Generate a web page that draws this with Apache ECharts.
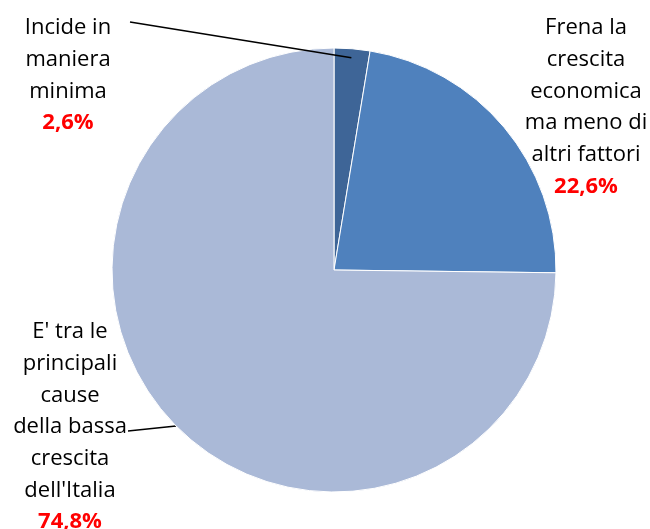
<!DOCTYPE html>
<html>
<head>
<meta charset="utf-8">
<script src="https://cdn.jsdelivr.net/npm/echarts@6/dist/echarts.min.js"></script>
<style>
  html, body { margin: 0; padding: 0; background: #fff; }
  #chart { width: 650px; height: 529px; }
</style>
</head>
<body>
<div id="chart"></div>
<script>
// dati
const categories = [
    'Incide in\nmaniera\nminima',
    'Frena la\ncrescita\neconomica\nma meno di\naltri fattori',
    "E' tra le\nprincipali\ncause\ndella bassa\ncrescita\ndell'Italia"
];
const values = [2.6, 22.6, 74.8];
const colors = ['#3E6597', '#4F81BD', '#AAB9D7'];

// posizione delle etichette (x centro, y, allineamento verticale, fine della linea guida, rientro nella fetta)
const labelSpots = [
    { x: 68, y: 12, v: 'top', tip: [130, 22], inset: 9 },
    { x: 586, y: 12, v: 'top', tip: null, inset: 0 },
    { x: 70, y: 538, v: 'bottom', tip: [128, 431], inset: 0 }
];
const pieCenter = [334, 270];
const pieRadius = 222;

// punto di partenza della linea guida: bordo della fetta a metà angolo
const total = values.reduce((a, b) => a + b, 0);
function sliceAnchor(i, inset) {
    let before = 0;
    for (let k = 0; k < i; k++) before += values[k];
    const ang = (before + values[i] / 2) / total * Math.PI * 2;
    const r = pieRadius - inset;
    return [pieCenter[0] + r * Math.sin(ang), pieCenter[1] - r * Math.cos(ang)];
}

const labelStyle = {
    show: true,
    position: 'outside',
    align: 'center',
    overflow: 'none',
    formatter: (p) => '{n|' + p.name.split('\n').join('}\n{n|') + '}\n{p|' + p.value.toFixed(1).replace('.', ',') + '%}',
    rich: {
        n: { fontFamily: 'Open Sans', fontSize: 22, color: '#000', lineHeight: 31.7, align: 'center' },
        p: { fontFamily: 'Open Sans', fontSize: 22, fontWeight: 'bold', color: '#FF0000', lineHeight: 31.7, align: 'center' }
    }
};

const labelLayout = (params) => {
    const s = labelSpots[params.dataIndex];
    const out = { x: s.x, y: s.y, align: 'center', verticalAlign: s.v };
    if (s.tip) {
        out.labelLinePoints = [sliceAnchor(params.dataIndex, s.inset), s.tip, s.tip];
    }
    return out;
};

// la linea della prima etichetta entra nella fetta: va disegnata sopra la torta
const onTop = [true, false, false];

const chart = echarts.init(document.getElementById('chart'));

const option = {
    animation: false,
    series: [{
        type: 'pie',
        center: pieCenter,
        radius: pieRadius,
        startAngle: 90,
        clockwise: true,
        silent: true,
        data: categories.map((name, i) => ({
            name: name,
            value: values[i],
            itemStyle: { color: colors[i] },
            label: { show: !onTop[i] },
            labelLine: { show: i !== 1 && !onTop[i] }
        })),
        itemStyle: { borderColor: '#fff', borderWidth: 1 },
        label: labelStyle,
        labelLine: { show: true, length: 0, length2: 0, lineStyle: { color: '#000', width: 1.5 } },
        labelLayout: labelLayout
    }, {
        type: 'pie',
        z: 5,
        center: pieCenter,
        radius: pieRadius,
        startAngle: 90,
        clockwise: true,
        silent: true,
        data: categories.map((name, i) => ({
            name: name,
            value: values[i],
            itemStyle: { color: 'rgba(0,0,0,0)', borderWidth: 0 },
            label: { show: onTop[i] },
            labelLine: { show: onTop[i] }
        })),
        label: labelStyle,
        labelLine: { show: true, length: 0, length2: 0, lineStyle: { color: '#000', width: 1.5 } },
        labelLayout: labelLayout
    }]
};

chart.setOption(option);
</script>
</body>
</html>
